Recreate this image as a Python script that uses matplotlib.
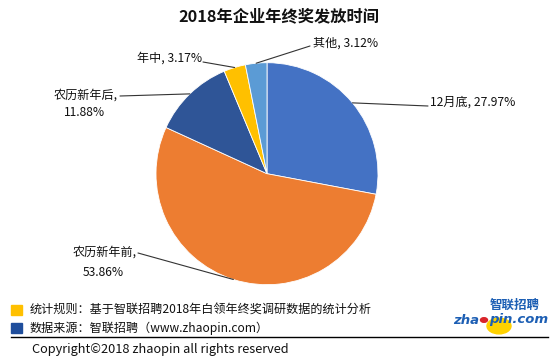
import numpy as np
import matplotlib
matplotlib.use("Agg")
import matplotlib.pyplot as plt
from matplotlib.patches import Rectangle, Circle

plt.rcParams['font.family'] = ['Noto Sans CJK SC', 'DejaVu Sans']

# ---- data ----
categories = ["12月底", "农历新年前", "农历新年后", "年中", "其他"]
values = [27.97, 53.86, 11.88, 3.17, 3.12]
colors = ["#4472C4", "#ED7D31", "#2F5597", "#FFC000", "#5B9BD5"]
title = "2018年企业年终奖发放时间"
note1 = "统计规则：基于智联招聘2018年白领年终奖调研数据的统计分析"
note2 = "数据来源：智联招聘（www.zhaopin.com）"
copyright_txt = "Copyright©2018 zhaopin all rights reserved"

W, H = 553, 363
fig = plt.figure(figsize=(W / 100, H / 100), dpi=100)
fig.patch.set_facecolor("white")

def fx(x):
    return x / W

def fy(y):
    return 1 - y / H

# pie axes: center (267, 173.7), radius 111 px
cx, cy, r = 267, 173.7, 111
ax = fig.add_axes([fx(cx - r), fy(cy + r), 2 * r / W, 2 * r / H])
wedges, _ = ax.pie(values, colors=colors, startangle=90, counterclock=False,
                   radius=1, wedgeprops=dict(edgecolor="white", linewidth=0.6))
ax.set_xlim(-1, 1)
ax.set_ylim(-1, 1)
ax.set_aspect("auto")
ax.axis("off")

# label layout (pixel positions, top-left origin)
line_ends = [(428, 106), (138, 253), (120, 96), (203, 62), (310, 46)]
lab_fs = 8.7
tcol = "#111111"

cum = np.cumsum([0] + values[:-1])
total = sum(values)
for i, v in enumerate(values):
    mid = 90 - 360 * (cum[i] + v / 2) / total
    px, py = line_ends[i]
    ax.annotate("", xy=(np.cos(np.radians(mid)), np.sin(np.radians(mid))),
                xycoords="data", xytext=(fx(px), fy(py)), textcoords="figure fraction",
                arrowprops=dict(arrowstyle="-", lw=0.8, color="#333333",
                                shrinkA=0, shrinkB=0),
                annotation_clip=False)

pct = [f"{v:.2f}%" for v in values]
# 12月底
fig.text(fx(430), fy(102), f"{categories[0]}, {pct[0]}", ha="left", va="center",
         fontsize=lab_fs, color=tcol)
# 农历新年前
fig.text(fx(104.5), fy(252), f"{categories[1]},", ha="center", va="center",
         fontsize=lab_fs, color=tcol)
fig.text(fx(103), fy(272), pct[1], ha="center", va="center", fontsize=lab_fs, color=tcol)
# 农历新年后
fig.text(fx(85.5), fy(95), f"{categories[2]},", ha="center", va="center",
         fontsize=lab_fs, color=tcol)
fig.text(fx(85), fy(113), pct[2], ha="center", va="center", fontsize=lab_fs, color=tcol)
# 年中
fig.text(fx(202), fy(58), f"{categories[3]}, {pct[3]}", ha="right", va="center",
         fontsize=lab_fs, color=tcol)
# 其他
fig.text(fx(313), fy(43), f"{categories[4]}, {pct[4]}", ha="left", va="center",
         fontsize=lab_fs, color=tcol)

# title
fig.text(fx(279), fy(16), title, ha="center", va="center", fontsize=11.7,
         fontweight="bold", color="#111111")

# footer
fig.patches.append(Rectangle((fx(11), fy(315)), 11 / W, 10 / H, color="#FFC000",
                             transform=fig.transFigure, figure=fig))
fig.patches.append(Rectangle((fx(11), fy(333)), 11 / W, 10 / H, color="#1F4E9C",
                             transform=fig.transFigure, figure=fig))
fig.text(fx(30), fy(309), note1, ha="left", va="center", fontsize=8.7, color=tcol)
fig.text(fx(30), fy(328), note2, ha="left", va="center", fontsize=8.7, color=tcol)
fig.add_artist(plt.Line2D([fx(11), fx(548)], [fy(337), fy(337)], color="black",
                          lw=1.0, transform=fig.transFigure))
fig.text(fx(32), fy(349), copyright_txt, ha="left", va="center", fontsize=9.2, color=tcol)

# logo
fig.patches.append(Circle((fx(499), fy(326)), 12 / W, color="#FFD200",
                          transform=fig.transFigure, figure=fig))
fig.text(fx(540), fy(305), "智联招聘", ha="right", va="center", fontsize=9,
         fontweight="bold", color="#1D5FB4")
fig.text(fx(479), fy(320), "zha", ha="right", va="center", fontsize=9.5,
         fontweight="bold", style="italic", color="#1D5FB4", family="DejaVu Sans")
fig.patches.append(Circle((fx(484), fy(320)), 3.5 / W, color="#D9252B",
                          transform=fig.transFigure, figure=fig))
fig.text(fx(489), fy(320), "pin.com", ha="left", va="center", fontsize=9.5,
         fontweight="bold", style="italic", color="#1D5FB4", family="DejaVu Sans")

fig.savefig("out.png", dpi=100, facecolor="white")
